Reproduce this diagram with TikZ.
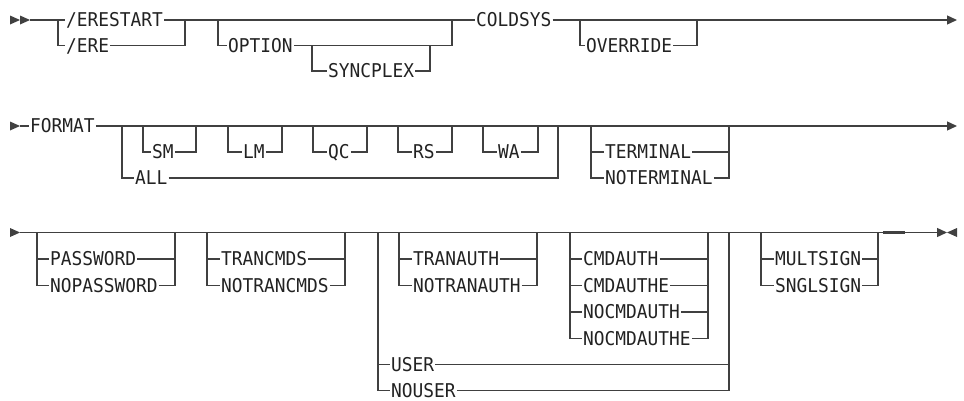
\documentclass[tikz,border=0pt]{standalone}
\usepackage{fontspec}
\setmonofont[FakeStretch=0.94]{DejaVu Sans Mono}
\usetikzlibrary{arrows.meta}
\definecolor{rail}{HTML}{404040}
\definecolor{ink}{HTML}{222222}
\begin{document}
\begin{tikzpicture}[x=1pt,y=-1pt,
  kw/.style={font=\ttfamily\fontsize{19}{19}\selectfont, text=ink, anchor=west,
             inner xsep=1pt, inner ysep=0pt, text height=13.8pt, text depth=0pt},
  rr/.style={draw=rail, line width=1.3pt},
  tip/.style={-{Triangle[length=10pt,width=9pt]}},
  head/.style={fill=rail, draw=none}
]
\useasboundingbox (0,0) rectangle (964,400);

% ---------------- Row 1 ----------------
\fill[head] (10,15.5) -- (20,20) -- (10,24.5) -- cycle;
\fill[head] (20,15.5) -- (30,20) -- (20,24.5) -- cycle;
\coordinate (s1) at (30,20);
\coordinate (a1) at (58,20);
\coordinate (b1) at (185,20);
\coordinate (a2) at (218,20);
\coordinate (c2) at (312,45.5);
\coordinate (d2) at (430,45.5);
\coordinate (b2) at (452,20);
\coordinate (a3) at (580,20);
\coordinate (b3) at (697,20);
\coordinate (e1) at (957,20);

\node[kw] (erestart) at (65,20) {/ERESTART};
\node[kw] (ere) at (65,45.5) {/ERE};
\node[kw] (option) at (227,45.5) {OPTION};
\node[kw] (syncplex) at (327,71) {SYNCPLEX};
\node[kw] (coldsys) at (475,20) {COLDSYS};
\node[kw] (override) at (585,45.5) {OVERRIDE};

\draw[rr] (s1) -- (erestart.west);
\draw[rr] (a1) |- (ere.west);
\draw[rr] (erestart.east) -- (coldsys.west);
\draw[rr] (ere.east) -| (b1);
\draw[rr] (a2) |- (option.west);
\draw[rr] (option.east) -| (b2);
\draw[rr] (c2) |- (syncplex.west);
\draw[rr] (syncplex.east) -| (d2);
\draw[rr,tip] (coldsys.east) -- (e1);
\draw[rr] (a3) |- (override.west);
\draw[rr] (override.east) -| (b3);

% ---------------- Row 2 ----------------
\fill[head] (10,121.5) -- (20,126) -- (10,130.5) -- cycle;
\coordinate (s2) at (20,126);
\coordinate (e2) at (957,126);
\coordinate (a4) at (122,126);
\coordinate (b4) at (558,126);
\coordinate (smL) at (143,126);  \coordinate (smR) at (196,126);
\coordinate (lmL) at (228,126);  \coordinate (lmR) at (282,126);
\coordinate (qcL) at (313,126);  \coordinate (qcR) at (367,126);
\coordinate (rsL) at (398,126);  \coordinate (rsR) at (452,126);
\coordinate (waL) at (483,126);  \coordinate (waR) at (538,126);
\coordinate (tmL) at (591,126);  \coordinate (tmR) at (729,126);

\node[kw] (format) at (29,126) {FORMAT};
\node[kw] (sm) at (151,152) {SM};
\node[kw] (lm) at (242,152) {LM};
\node[kw] (qc) at (327,152) {QC};
\node[kw] (rs) at (412,152) {RS};
\node[kw] (wa) at (497,152) {WA};
\node[kw] (all) at (134,178) {ALL};
\node[kw] (terminal) at (604,152) {TERMINAL};
\node[kw] (noterminal) at (604,178) {NOTERMINAL};

\draw[rr] (s2) -- (format.west);
\draw[rr,tip] (format.east) -- (e2);
\draw[rr] (a4) |- (all.west);
\draw[rr] (all.east) -| (b4);
\draw[rr] (smL) |- (sm.west);  \draw[rr] (sm.east) -| (smR);
\draw[rr] (lmL) |- (lm.west);  \draw[rr] (lm.east) -| (lmR);
\draw[rr] (qcL) |- (qc.west);  \draw[rr] (qc.east) -| (qcR);
\draw[rr] (rsL) |- (rs.west);  \draw[rr] (rs.east) -| (rsR);
\draw[rr] (waL) |- (wa.west);  \draw[rr] (wa.east) -| (waR);
\draw[rr] (tmL) |- (terminal.west);   \draw[rr] (terminal.east) -| (tmR);
\draw[rr] (tmL) |- (noterminal.west); \draw[rr] (noterminal.east) -| (tmR);

% ---------------- Row 3 ----------------
\fill[head] (10,228) -- (20,232.5) -- (10,237) -- cycle;
\coordinate (s3) at (20,232.5);
\coordinate (e3) at (947,232.5);
\coordinate (pwL) at (37,232.5);  \coordinate (pwR) at (175,232.5);
\coordinate (tcL) at (207,232.5); \coordinate (tcR) at (345,232.5);
\coordinate (bgL) at (378,232.5); \coordinate (bgR) at (729,232.5);
\coordinate (taL) at (399,232.5); \coordinate (taR) at (537,232.5);
\coordinate (caL) at (570,232.5); \coordinate (caR) at (708,232.5);
\coordinate (msL) at (761,232.5); \coordinate (msR) at (878,232.5);
\coordinate (tk1) at (883,232.5); \coordinate (tk2) at (905,232.5);

\node[kw] (password) at (49,259) {PASSWORD};
\node[kw] (nopassword) at (49,285.5) {NOPASSWORD};
\node[kw] (trancmds) at (220,259) {TRANCMDS};
\node[kw] (notrancmds) at (220,285.5) {NOTRANCMDS};
\node[kw] (tranauth) at (412,259) {TRANAUTH};
\node[kw] (notranauth) at (412,285.5) {NOTRANAUTH};
\node[kw] (cmdauth) at (582,259) {CMDAUTH};
\node[kw] (cmdauthe) at (582,285.5) {CMDAUTHE};
\node[kw] (nocmdauth) at (582,312) {NOCMDAUTH};
\node[kw] (nocmdauthe) at (582,338.5) {NOCMDAUTHE};
\node[kw] (user) at (390,364.5) {USER};
\node[kw] (nouser) at (390,390.5) {NOUSER};
\node[kw] (multsign) at (774,259) {MULTSIGN};
\node[kw] (snglsign) at (774,285.5) {SNGLSIGN};

\draw[rr,tip] (s3) -- (e3);
\draw[rr, line width=2.2pt] (tk1) -- (tk2);
\fill[head] (957,228) -- (947,232.5) -- (957,237) -- cycle;

\draw[rr] (pwL) |- (password.west);   \draw[rr] (password.east) -| (pwR);
\draw[rr] (pwL) |- (nopassword.west); \draw[rr] (nopassword.east) -| (pwR);
\draw[rr] (tcL) |- (trancmds.west);   \draw[rr] (trancmds.east) -| (tcR);
\draw[rr] (tcL) |- (notrancmds.west); \draw[rr] (notrancmds.east) -| (tcR);
\draw[rr] (taL) |- (tranauth.west);   \draw[rr] (tranauth.east) -| (taR);
\draw[rr] (taL) |- (notranauth.west); \draw[rr] (notranauth.east) -| (taR);
\draw[rr] (caL) |- (cmdauth.west);    \draw[rr] (cmdauth.east) -| (caR);
\draw[rr] (caL) |- (cmdauthe.west);   \draw[rr] (cmdauthe.east) -| (caR);
\draw[rr] (caL) |- (nocmdauth.west);  \draw[rr] (nocmdauth.east) -| (caR);
\draw[rr] (caL) |- (nocmdauthe.west); \draw[rr] (nocmdauthe.east) -| (caR);
\draw[rr] (bgL) |- (user.west);       \draw[rr] (user.east) -| (bgR);
\draw[rr] (bgL) |- (nouser.west);     \draw[rr] (nouser.east) -| (bgR);
\draw[rr] (msL) |- (multsign.west);   \draw[rr] (multsign.east) -| (msR);
\draw[rr] (msL) |- (snglsign.west);   \draw[rr] (snglsign.east) -| (msR);
\end{tikzpicture}
\end{document}
